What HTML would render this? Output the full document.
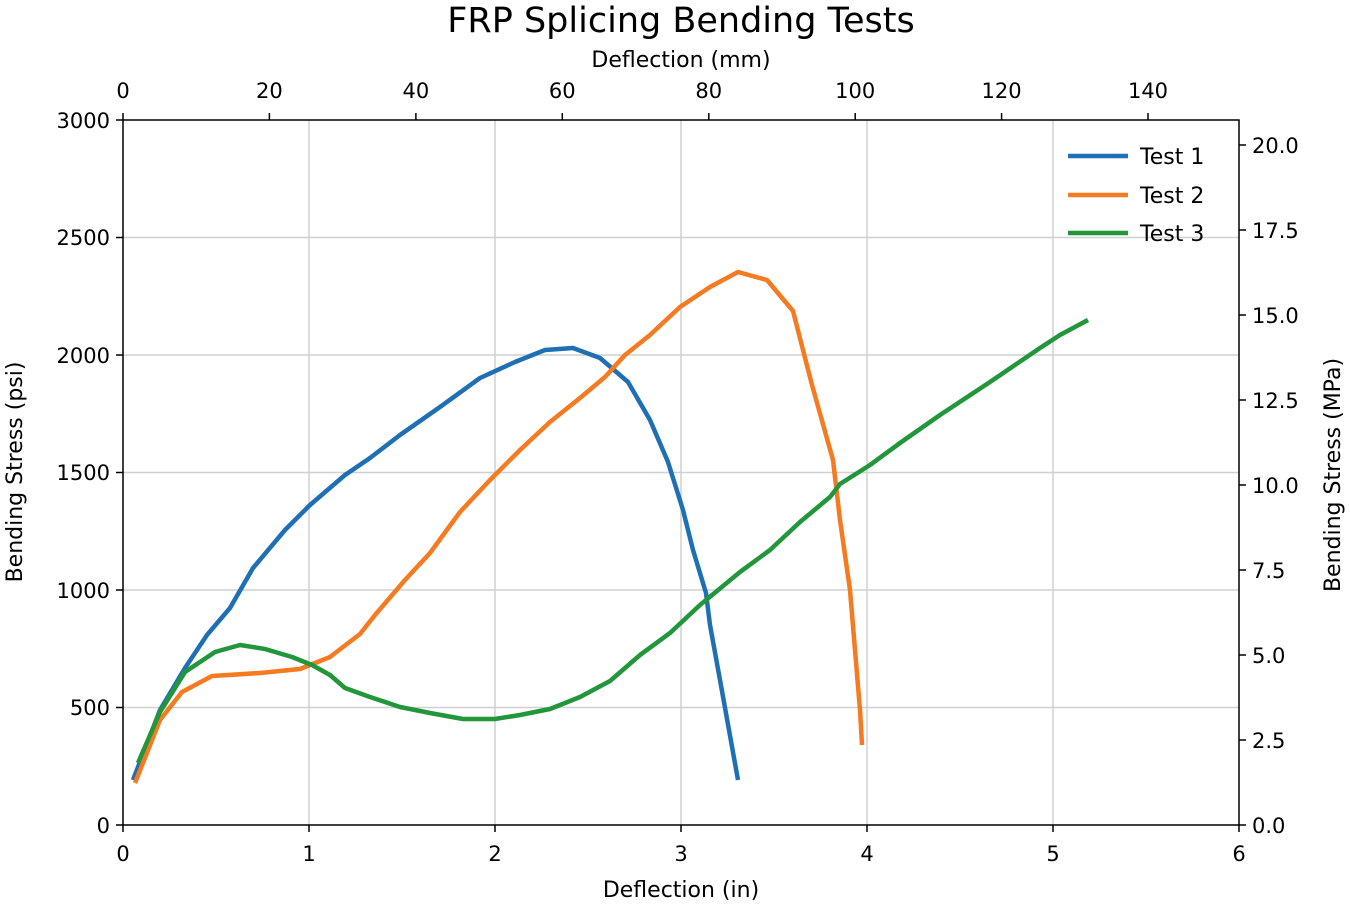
<!DOCTYPE html>
<html><head><style>body{margin:0;background:#fff}svg{display:block}text{font-family:"DejaVu Sans","Liberation Sans",sans-serif;fill:#000}</style></head><body>
<svg width="1350" height="906" viewBox="0 0 1350 906">
<g stroke="#d0d0d0" stroke-width="1.5">
<line x1="309" y1="120" x2="309" y2="825"/><line x1="495" y1="120" x2="495" y2="825"/><line x1="681" y1="120" x2="681" y2="825"/><line x1="867" y1="120" x2="867" y2="825"/><line x1="1053" y1="120" x2="1053" y2="825"/>
<line x1="123" y1="707.5" x2="1239" y2="707.5"/><line x1="123" y1="590" x2="1239" y2="590"/><line x1="123" y1="472.5" x2="1239" y2="472.5"/><line x1="123" y1="355" x2="1239" y2="355"/><line x1="123" y1="237.5" x2="1239" y2="237.5"/>
</g>
<g fill="none" stroke-width="4.5" stroke-linejoin="round" stroke-linecap="butt">
<polyline stroke="#1f6fb5" points="133,780 160,710 185,668 207,635 230,608 253,568 285,530 310,505 345,475 370,458 400,435 440,407 480,378 515,362 545,350 573,348 600,358 628,382 650,420 668,462 683,510 693,550 706,593 710,625 720,680 738,780"/>
<polyline stroke="#f57a20" points="135,783 160,720 182,692 212,676 260,673 300,669 330,657 360,634 375,615 405,580 430,553 460,512 490,480 520,450 550,422 580,398 605,377 625,355 650,335 680,307 710,287 738,272 767,280 793,311 812,385 833,460 840,520 850,590 855,650 860,710 862,745"/>
<polyline stroke="#22963a" points="138,763 160,712 185,672 215,652 240,645 265,649 292,657 312,665 330,675 345,688 370,697 400,707 430,713 463,719 495,719 520,715 550,709 580,697 610,681 640,655 670,633 700,605 740,572 770,550 800,522 830,497 840,484 870,465 900,443 940,415 990,382 1040,348 1060,335 1088,320"/>
</g>
<rect x="123" y="120" width="1116" height="705" fill="none" stroke="#000" stroke-width="1.5"/>
<g stroke="#000" stroke-width="1.5">
<line x1="123" y1="825" x2="123" y2="832"/><line x1="309" y1="825" x2="309" y2="832"/><line x1="495" y1="825" x2="495" y2="832"/><line x1="681" y1="825" x2="681" y2="832"/><line x1="867" y1="825" x2="867" y2="832"/><line x1="1053" y1="825" x2="1053" y2="832"/><line x1="1239" y1="825" x2="1239" y2="832"/>
<line x1="116" y1="825" x2="123" y2="825"/><line x1="116" y1="707.5" x2="123" y2="707.5"/><line x1="116" y1="590" x2="123" y2="590"/><line x1="116" y1="472.5" x2="123" y2="472.5"/><line x1="116" y1="355" x2="123" y2="355"/><line x1="116" y1="237.5" x2="123" y2="237.5"/><line x1="116" y1="120" x2="123" y2="120"/>
<line x1="123" y1="120" x2="123" y2="113"/><line x1="269.4" y1="120" x2="269.4" y2="113"/><line x1="415.9" y1="120" x2="415.9" y2="113"/><line x1="562.3" y1="120" x2="562.3" y2="113"/><line x1="708.8" y1="120" x2="708.8" y2="113"/><line x1="855.2" y1="120" x2="855.2" y2="113"/><line x1="1001.6" y1="120" x2="1001.6" y2="113"/><line x1="1148" y1="120" x2="1148" y2="113"/>
<line x1="1239" y1="825" x2="1246" y2="825"/><line x1="1239" y1="740" x2="1246" y2="740"/><line x1="1239" y1="655" x2="1246" y2="655"/><line x1="1239" y1="570" x2="1246" y2="570"/><line x1="1239" y1="485" x2="1246" y2="485"/><line x1="1239" y1="400" x2="1246" y2="400"/><line x1="1239" y1="315" x2="1246" y2="315"/><line x1="1239" y1="230" x2="1246" y2="230"/><line x1="1239" y1="145" x2="1246" y2="145"/>
</g>
<g font-size="21" text-anchor="middle">
<text x="123" y="861">0</text><text x="309" y="861">1</text><text x="495" y="861">2</text><text x="681" y="861">3</text><text x="867" y="861">4</text><text x="1053" y="861">5</text><text x="1239" y="861">6</text>
<text x="123" y="98">0</text><text x="269.4" y="98">20</text><text x="415.9" y="98">40</text><text x="562.3" y="98">60</text><text x="708.8" y="98">80</text><text x="855.2" y="98">100</text><text x="1001.6" y="98">120</text><text x="1148" y="98">140</text>
</g>
<g font-size="21" text-anchor="end">
<text x="110" y="833">0</text><text x="110" y="715">500</text><text x="110" y="598">1000</text><text x="110" y="480">1500</text><text x="110" y="363">2000</text><text x="110" y="245">2500</text><text x="110" y="128">3000</text>
</g>
<g font-size="21">
<text x="1252" y="833">0.0</text><text x="1252" y="748">2.5</text><text x="1252" y="663">5.0</text><text x="1252" y="578">7.5</text><text x="1252" y="493">10.0</text><text x="1252" y="408">12.5</text><text x="1252" y="323">15.0</text><text x="1252" y="238">17.5</text><text x="1252" y="153">20.0</text>
</g>
<text x="681" y="897" font-size="22" text-anchor="middle">Deflection (in)</text>
<text x="681" y="67" font-size="22" text-anchor="middle">Deflection (mm)</text>
<text x="681" y="32" font-size="35" text-anchor="middle">FRP Splicing Bending Tests</text>
<text transform="translate(22,472) rotate(-90)" font-size="22" text-anchor="middle">Bending Stress (psi)</text>
<text transform="translate(1340,475) rotate(-90)" font-size="22" text-anchor="middle">Bending Stress (MPa)</text>
<g stroke-width="4.5">
<line x1="1068" y1="156" x2="1128" y2="156" stroke="#1f6fb5"/>
<line x1="1068" y1="195" x2="1128" y2="195" stroke="#f57a20"/>
<line x1="1068" y1="233" x2="1128" y2="233" stroke="#22963a"/>
</g>
<g font-size="22"><text x="1140" y="164">Test 1</text><text x="1140" y="203">Test 2</text><text x="1140" y="241">Test 3</text></g>
</svg></body></html>
